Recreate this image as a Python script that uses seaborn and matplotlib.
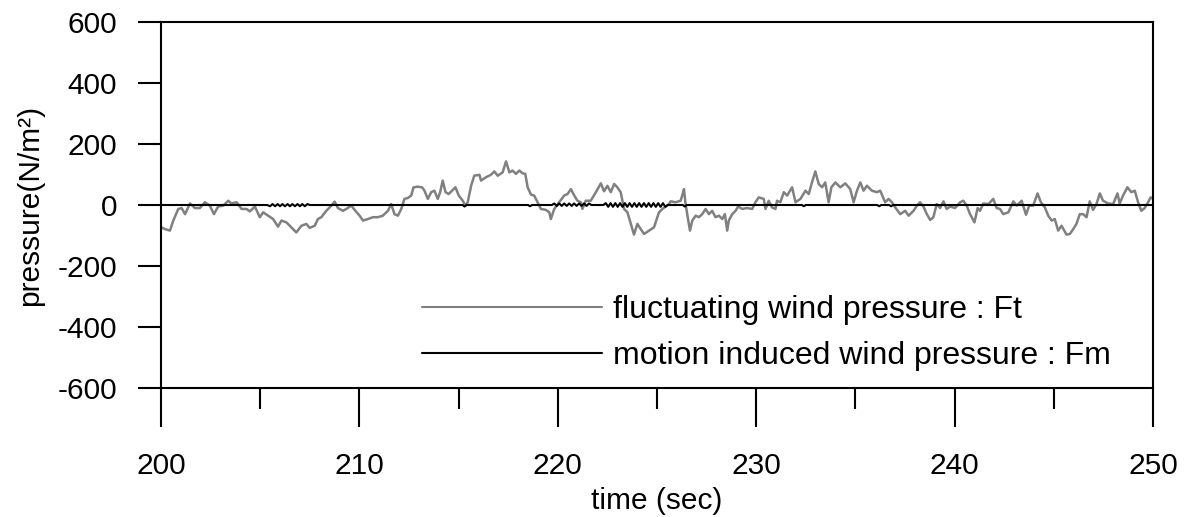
import numpy as np
import pandas as pd
import matplotlib
matplotlib.use("Agg")
import matplotlib.pyplot as plt
from matplotlib.ticker import MultipleLocator
import seaborn as sns

# Fluctuating wind pressure Ft (N/m^2) against time (sec)
ft_time = [
    200.0, 200.2, 200.45, 200.62, 200.87, 201.04, 201.21, 201.46, 201.71, 201.96,
    202.21, 202.46, 202.67, 202.88, 203.14, 203.39, 203.55, 203.81, 204.06, 204.31,
    204.48, 204.73, 204.98, 205.15, 205.40, 205.65, 205.90, 206.07, 206.32, 206.49,
    206.82, 207.08, 207.33, 207.49, 207.75, 207.91, 208.08, 208.33, 208.59, 208.75,
    208.92, 209.17, 209.34, 209.59, 209.76, 210.01, 210.18, 210.43, 210.68, 210.93,
    211.18, 211.44, 211.60, 211.77, 211.94, 212.11, 212.27,
    212.44, 212.61, 212.73, 212.94, 213.16, 213.28, 213.45, 213.62, 213.78, 213.95,
    214.07, 214.20, 214.34, 214.50, 214.67, 214.84, 215.01, 215.21, 215.34, 215.46,
    215.63, 215.79, 216.05, 216.13, 216.38, 216.63, 216.80, 216.97, 217.22, 217.39,
    217.56, 217.72, 217.89, 218.06, 218.23, 218.36, 218.48, 218.65, 218.81, 218.98,
    219.15, 219.40, 219.57, 219.65, 219.82, 220.07, 220.32, 220.49, 220.66, 220.83,
    220.99, 221.16, 221.24, 221.41, 221.66, 221.92, 222.17, 222.33, 222.50, 222.67,
    222.84, 223.00, 223.17, 223.34, 223.51, 223.68, 223.84, 224.01, 224.18, 224.35,
    224.60, 224.85, 225.02, 225.10,
    225.27, 225.44, 225.60, 225.69, 225.94, 226.19, 226.27, 226.36, 226.44, 226.58,
    226.66, 226.78, 226.95, 227.11, 227.28, 227.45, 227.62, 227.78, 227.95, 228.12,
    228.29, 228.42, 228.54, 228.62, 228.79, 228.96, 229.09, 229.29, 229.54, 229.80,
    229.96, 230.13, 230.38, 230.47, 230.63, 230.80, 230.97, 231.05, 231.22, 231.39,
    231.56, 231.81, 231.98, 232.23, 232.48, 232.65, 232.81, 232.98, 233.15, 233.32,
    233.48, 233.65, 233.79, 233.99, 234.24, 234.49, 234.74, 234.91, 235.08, 235.25,
    235.41, 235.58, 235.83, 236.08, 236.25, 236.50, 236.67, 236.84, 237.01, 237.26,
    237.51, 237.68,
    237.93, 238.10, 238.26, 238.43, 238.60, 238.77, 238.93, 239.10, 239.27, 239.44,
    239.60, 239.77, 240.02, 240.28, 240.44, 240.61, 240.78, 241.00, 241.16, 241.28,
    241.45, 241.70, 241.95, 242.12, 242.29, 242.45, 242.71, 242.96, 243.13, 243.38,
    243.60, 243.76, 243.96, 244.18, 244.35, 244.55, 244.72, 244.89, 245.05, 245.22,
    245.39, 245.64, 245.81, 245.98, 246.14, 246.31, 246.48, 246.65, 246.81, 246.98,
    247.15, 247.32, 247.48, 247.74, 247.99, 248.21, 248.32, 248.49, 248.71, 248.91,
    249.08, 249.25, 249.41, 249.58, 249.75, 249.88, 250.0,
]
ft_value = [
    -73, -79, -84, -51, -13, -10, -30, 5, -10, -10,
    9, -2, -30, -5, -2, 14, 5, 9, -13, -13,
    -21, -5, -40, -24, -35, -46, -71, -51, -57, -68,
    -90, -68, -62, -75, -68, -46, -40, -19, -2, 11,
    -10, -19, -13, -2, -16, -35, -51, -46, -40, -40,
    -35, -19, 3, -30, -35, -13, 20,
    23, 31, 58, 60, 58, 47, 20, 42, 47, 20,
    42, 80, 42, 36, 47, 58, 31, 14, -2, 9,
    63, 96, 99, 80, 91, 99, 110, 96, 107, 143,
    107, 113, 102, 113, 104, 102, 58, 34, 31, 9,
    -13, -16, -24, -46, -13, 9, 31, 36, 52, 31,
    14, 9, -13, 14, 14, 42, 71, 45, 63, 42,
    69, 58, 42, -13, -24, -62, -97, -62, -79, -95,
    -84, -73, -40, -24,
    -13, -5, 3, 12, 9, 14, 31, 52, 3, -51,
    -84, -51, -35, -40, -30, -13, -30, -19, -40, -35,
    -46, -30, -84, -51, -30, -19, -5, -13, -10, -13,
    9, 25, 20, -13, 14, -8, -13, 14, 9, 42,
    31, 58, 9, 20, 47, 36, 74, 110, 69, 58,
    74, 9, 58, 74, 58, 71, 52, 9, 47, 74,
    47, 63, 47, 42, 47, 9, 20, 9, -8, -30,
    -19, -35,
    -19, -2, 9, -5, -30, -49, -40, 3, -10, 12,
    -13, -5, -10, 9, 14, -2, -30, -57, -10, -19,
    5, 3, 20, -10, -13, -30, -24, 12, -2, 14,
    -32, -2, -2, 38, 9, -8, -35, -51, -46, -84,
    -68, -97, -95, -79, -62, -30, -30, -40, 12, -16,
    3, 38, 14, 5, 3, 38, 5, 31, 58, 42,
    47, 9, -19, -10, 9, 25, 20,
]

# Motion induced wind pressure Fm (N/m^2) against time (sec)
fm_time = [
    200.0,
    205.35, 205.5, 205.62, 205.75, 205.88, 206.0, 206.12, 206.25, 206.38, 206.5,
    206.62, 206.75, 206.88, 207.0, 207.12, 207.25, 207.38, 207.5,
    215.2, 215.3, 215.4,
    218.5, 218.6, 218.7,
    219.7, 219.82, 219.95, 220.07, 220.2, 220.32, 220.45, 220.57, 220.7, 220.82,
    220.95, 221.07, 221.2, 221.32, 221.45, 221.57, 221.7,
    222.30, 222.42, 222.54, 222.66, 222.78, 222.90, 223.02, 223.14, 223.26, 223.38,
    223.50, 223.62, 223.74, 223.86, 223.98, 224.10, 224.22, 224.34, 224.46, 224.58,
    224.70, 224.82, 224.94, 225.06, 225.18, 225.30, 225.42, 225.54,
    226.3, 226.4, 226.5,
    232.3, 232.4, 232.5,
    236.1, 236.2, 236.3,
    236.7, 236.8, 236.9,
    250.0,
]
fm_value = [
    0,
    0, -4, 3, -4, 3, -4, 3, -4, 3, -4,
    3, -4, 3, -4, 3, -4, 3, 0,
    0, -5, 0,
    0, -4, 0,
    0, 5, -3, 5, -3, 5, -3, 5, -3, 5,
    -3, 5, -3, 5, -3, 5, 0,
    0, 6, -6, 6, -6, 6, -6, 6, -6, 6,
    -6, 6, -6, 6, -6, 6, -6, 6, -6, 6,
    -6, 6, -6, 6, -6, 6, -6, 0,
    0, -5, 0,
    0, -4, 0,
    0, -4, 0,
    0, -4, 0,
    0,
]

ft = pd.DataFrame({"time": ft_time, "pressure": ft_value})
fm = pd.DataFrame({"time": fm_time, "pressure": fm_value})

sns.set_style("ticks")
plt.rcParams["font.family"] = ["Liberation Sans", "DejaVu Sans"]
plt.rcParams["axes.unicode_minus"] = False
plt.rcParams["text.color"] = "black"
plt.rcParams["axes.labelcolor"] = "black"

fig = plt.figure(figsize=(11.85, 5.17), dpi=100)
ax = fig.add_axes([161 / 1185, 1 - 388 / 517, (1153 - 161) / 1185, (388 - 22) / 517])

sns.lineplot(data=ft, x="time", y="pressure", ax=ax, color="#808080",
             linewidth=1.8, label="fluctuating wind pressure : Ft",
             estimator=None, sort=False)
sns.lineplot(data=fm, x="time", y="pressure", ax=ax, color="black",
             linewidth=1.5, label="motion induced wind pressure : Fm",
             estimator=None, sort=False)

ax.set_xlim(200, 250)
ax.set_ylim(-600, 600)
ax.xaxis.set_major_locator(MultipleLocator(10))
ax.xaxis.set_minor_locator(MultipleLocator(5))
ax.yaxis.set_major_locator(MultipleLocator(200))

for side in ["left", "right", "top", "bottom"]:
    ax.spines[side].set_visible(True)
    ax.spines[side].set_linewidth(1.5)
    ax.spines[side].set_color("black")

ax.tick_params(axis="y", direction="out", length=16.5, width=1.5,
               labelsize=21.5, pad=15, colors="black")
ax.tick_params(axis="x", which="major", direction="out", length=28, width=1.5,
               labelsize=21.5, pad=18, colors="black")
ax.tick_params(axis="x", which="minor", direction="out", length=15, width=1.5,
               colors="black")

ax.set_xlabel("time (sec)", fontsize=21.5, color="black")
ax.set_ylabel("pressure(N/m²)", fontsize=21.5, color="black")
ax.xaxis.set_label_coords(0.5, -0.27)
ax.yaxis.set_label_coords(-0.118, 0.5)

leg = ax.legend(loc="upper left", bbox_to_anchor=((422 - 161) / 992, 1 - (295 - 22) / 366),
                frameon=False, fontsize=23, handlelength=5.65, handletextpad=0.32,
                borderpad=0, borderaxespad=0, labelspacing=0.5)
for line in leg.get_lines():
    line.set_linewidth(1.5)
for text in leg.get_texts():
    text.set_color("black")

fig.savefig("out.png", dpi=100)
